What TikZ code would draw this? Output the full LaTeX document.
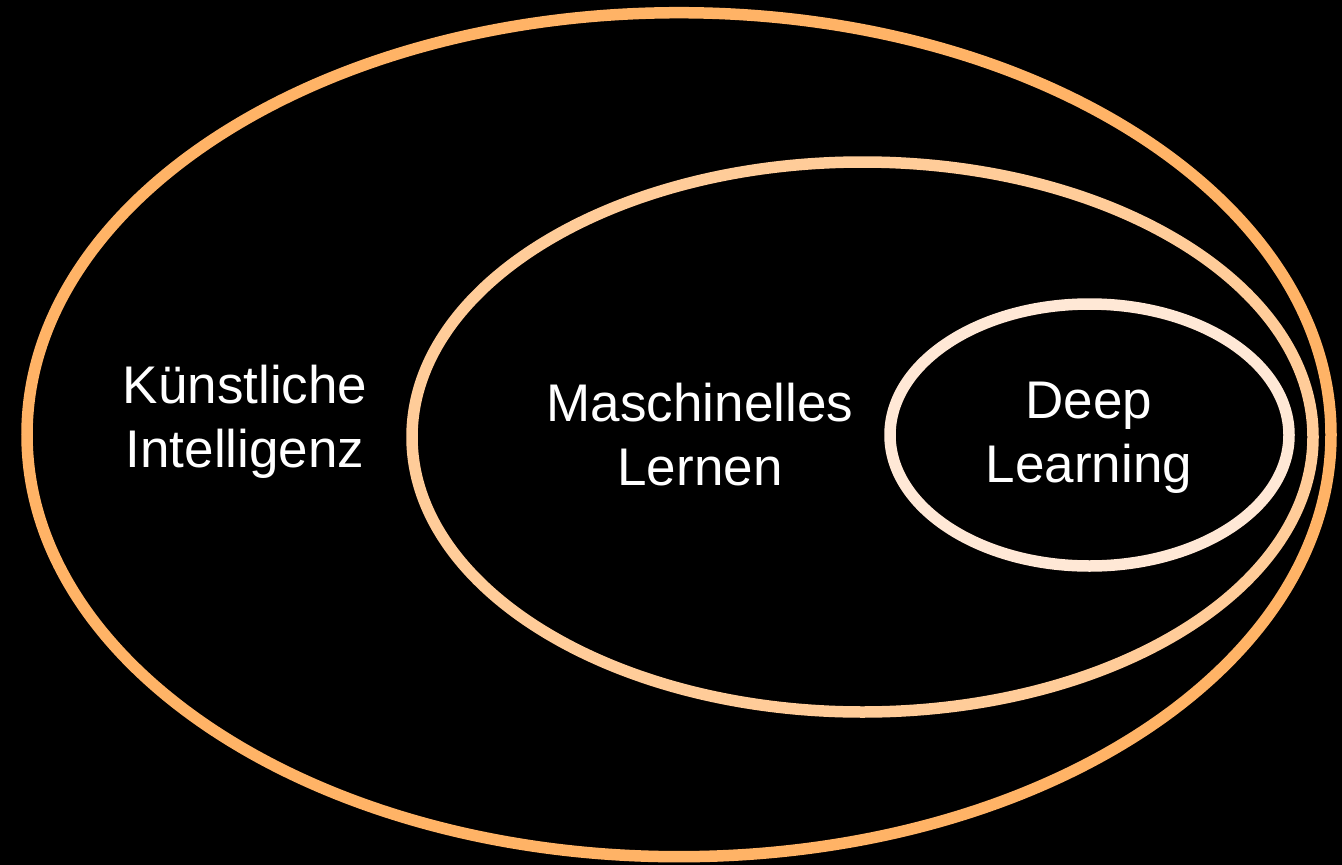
\documentclass[tikz,border=0pt]{standalone}
\usepackage{fontspec}
\setmainfont{Liberation Sans}
\definecolor{outerc}{HTML}{FFB366}
\definecolor{midc}{HTML}{FFCC99}
\definecolor{innerc}{HTML}{FFE8D6}
\begin{document}
\begin{tikzpicture}[x=1pt,y=-1pt,
  ring/.style={line width=11.5pt},
  lbl/.style={text=white,align=center,font=\fontsize{53}{64}\selectfont,inner sep=0pt}]
\fill[black] (0,0) rectangle (1342,865);
\useasboundingbox (0,0) rectangle (1342,865);
\draw[ring,outerc] (679,434.7) ellipse [x radius=652,y radius=422];
\draw[ring,midc] (862.5,437) ellipse [x radius=450.5,y radius=275];
\draw[ring,innerc] (1089.5,435) ellipse [x radius=199.5,y radius=131];
\node[lbl] (ki) at (245,422) {Künstliche\\Intelligenz};
\node[lbl] (ml) at (700,435) {Maschinelles\\Lernen};
\node[lbl] (dl) at (1089,438) {Deep\\Learning};
\end{tikzpicture}
\end{document}
